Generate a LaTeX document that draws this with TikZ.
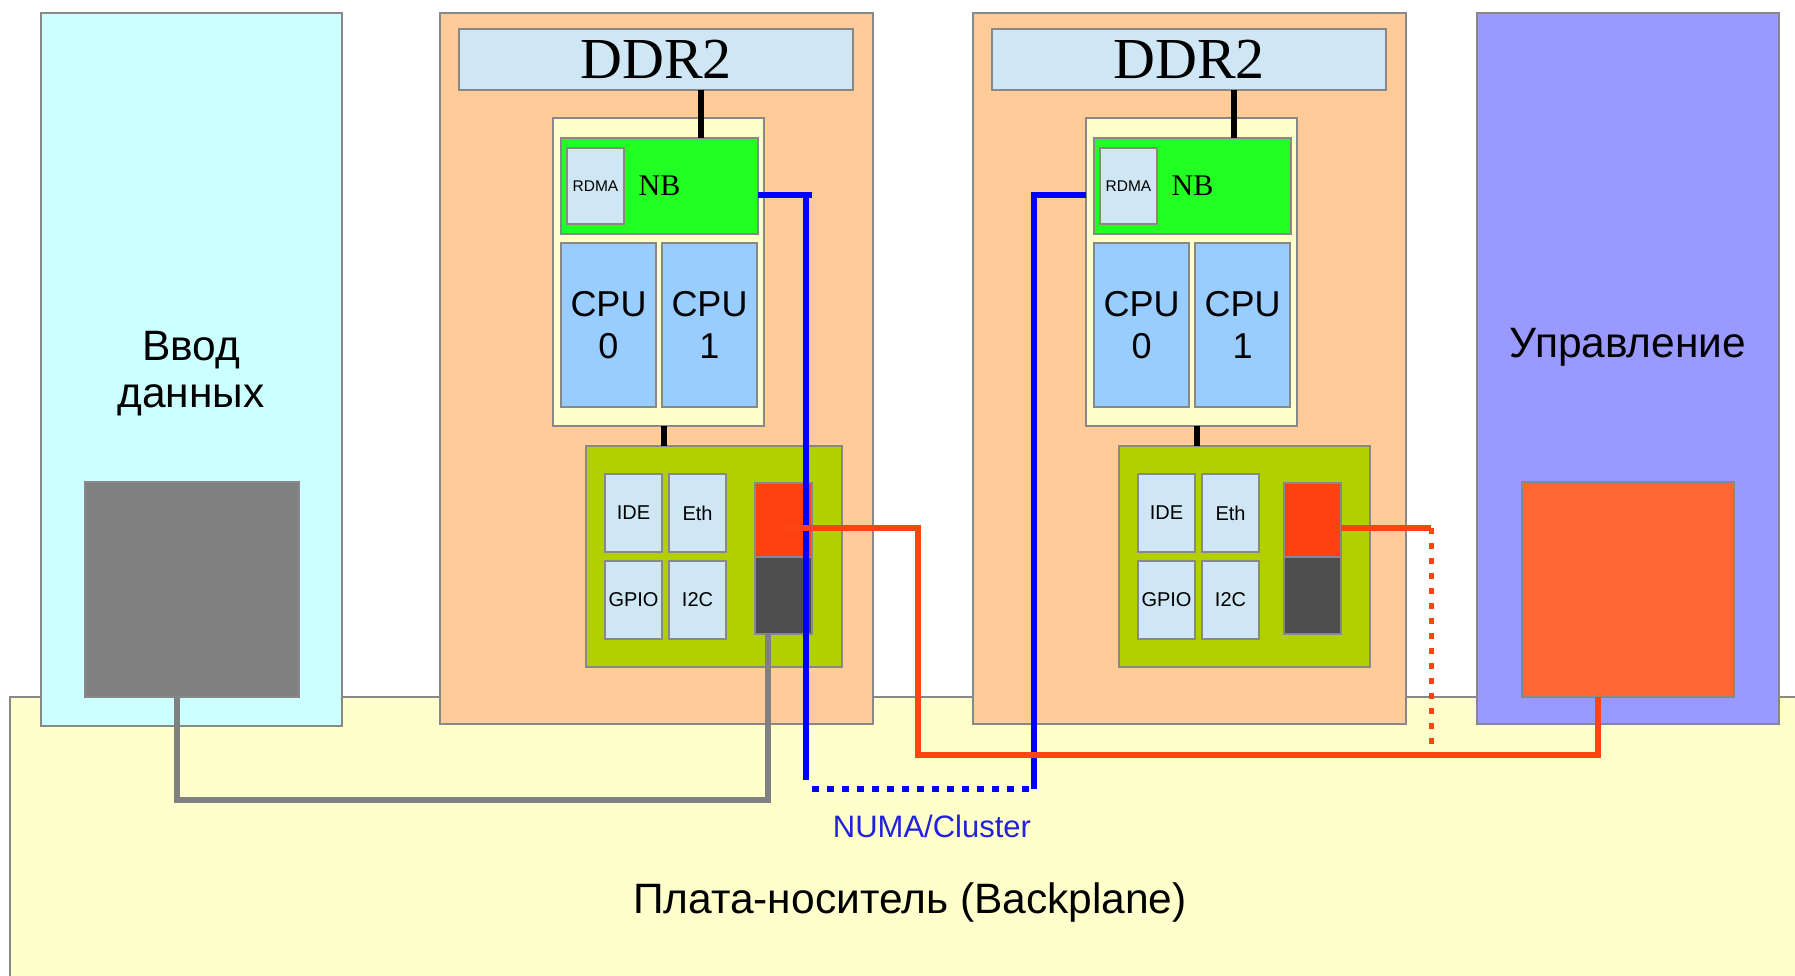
\documentclass[tikz,border=0pt]{standalone}
\usepackage{fontspec}
\setmainfont{Liberation Serif}
\setsansfont{Liberation Sans}
\usetikzlibrary{positioning}
\definecolor{edge}{RGB}{136,136,136}
\definecolor{inputcyan}{RGB}{204,255,255}
\definecolor{insqgray}{RGB}{128,128,128}
\definecolor{boardpeach}{RGB}{255,204,153}
\definecolor{ddrblue}{RGB}{207,231,245}
\definecolor{modcream}{RGB}{255,255,204}
\definecolor{nbgreen}{RGB}{34,255,34}
\definecolor{cpublue}{RGB}{153,204,255}
\definecolor{sbgreen}{RGB}{176,208,0}
\definecolor{portred}{RGB}{255,64,16}
\definecolor{portdark}{RGB}{77,77,77}
\definecolor{ctlpurple}{RGB}{153,153,255}
\definecolor{ctlorange}{RGB}{255,102,51}
\definecolor{bpyellow}{RGB}{255,255,204}
\definecolor{mgmtred}{RGB}{255,68,17}
\definecolor{numablue}{RGB}{34,34,221}

\begin{document}
\begin{tikzpicture}[
    x=1pt, y=-1pt,
    blk/.style={draw=edge, line width=2pt, inner sep=0pt, outer sep=0pt, anchor=north west},
    board/.style={blk, fill=boardpeach, minimum width=433pt, minimum height=711pt},
    ddr/.style={blk, fill=ddrblue, minimum width=394pt, minimum height=61pt, font=\fontsize{58}{60}\selectfont},
    module/.style={blk, fill=modcream, minimum width=211pt, minimum height=308pt},
    nbbox/.style={blk, fill=nbgreen, minimum width=197pt, minimum height=96pt, font=\fontsize{30}{32}\selectfont},
    rdma/.style={blk, fill=ddrblue, minimum width=57pt, minimum height=76pt, font=\sffamily\fontsize{15.5}{17}\selectfont},
    cpu/.style={blk, fill=cpublue, minimum width=95pt, minimum height=164pt, align=center, font=\sffamily\fontsize{36}{42}\selectfont},
    sbbox/.style={blk, fill=sbgreen, minimum height=221pt},
    io/.style={blk, fill=ddrblue, minimum width=57pt, minimum height=78pt, font=\sffamily\fontsize{20}{22}\selectfont},
    port/.style={blk, minimum width=57pt},
    lbl/.style={inner sep=0pt, align=center, font=\sffamily\fontsize{42.5}{47}\selectfont},
    bus/.style={line width=6pt, black},
    numa/.style={line width=6pt, blue},
    numadot/.style={numa, dash pattern=on 7pt off 8pt},
    mgmt/.style={line width=6pt, mgmtred},
    mgmtdot/.style={line width=5pt, mgmtred, dash pattern=on 6pt off 9pt},
    data/.style={line width=6pt, insqgray},
]
\useasboundingbox (0,0) rectangle (1795,975);

% backplane and side blocks
\node[blk, fill=bpyellow, minimum width=1800pt, minimum height=300pt] (bp) at (10,697) {};
\node[blk, fill=inputcyan, minimum width=301pt, minimum height=713pt] (inbox) at (41,13) {};
\node[blk, fill=insqgray, minimum width=214pt, minimum height=215pt] (insq) at (85,482) {};
\node[blk, fill=ctlpurple, minimum width=302pt, minimum height=711pt] (ctl) at (1477,13) {};
\node[blk, fill=ctlorange, minimum width=212pt, minimum height=215pt] (ctlsq) at (1522,482) {};

% two processor boards
\foreach \brd/\dx/\px/\sw in {a/0/0/256, b/533/-4/251} {
  \node[board] (board\brd) at (440+\dx,13) {};
  \node[ddr] (ddr\brd) at (459+\dx,29) {DDR2};
  \node[module] (cpum\brd) at (553+\dx,118) {};
  \node[nbbox] (nb\brd) at (561+\dx,138) {NB};
  \node[rdma] (rdma\brd) at (567+\dx,148) {RDMA};
  \node[cpu] (cpu0\brd) at (561+\dx,243) {CPU\\0};
  \node[cpu, right=6pt of cpu0\brd] (cpu1\brd) {CPU\\1};
  \node[sbbox, minimum width=\sw pt] (sb\brd) at (586+\dx,446) {};
  \node[io] (ide\brd) at (605+\dx,474) {IDE};
  \node[io, right=7pt of ide\brd] (eth\brd) {Eth};
  \node[io, below=9pt of ide\brd] (gpio\brd) {GPIO};
  \node[io, right=7pt of gpio\brd] (i2c\brd) {I2C};
  \node[port, fill=portred, minimum height=74pt] (red\brd) at (755+\dx+\px,483) {};
  \node[port, fill=portdark, minimum height=77pt, below=0pt of red\brd] (dark\brd) {};
  \draw[bus] ([xshift=45pt]ddr\brd.south) -- ([xshift=45pt]ddr\brd.south |- nb\brd.north);
  \draw[bus] ([xshift=5pt]cpum\brd.south) -- ([xshift=5pt]cpum\brd.south |- sb\brd.north);
}

% labels
\node[lbl] (inlbl) at (191,374) {Ввод\\данных};
\node[lbl, anchor=base] (ctllbl) at (1628,357) {Управление};
\node[lbl, anchor=base] (bplbl) at (910,913) {Плата-носитель (Backplane)};
\node[lbl, anchor=base, text=numablue, font=\sffamily\fontsize{31}{34}\selectfont] (numalbl) at (932,837) {NUMA/Cluster};

% links
\coordinate (numaL) at (806,780);
\coordinate (numaR) at (1034,789);
\draw[numa] ([yshift=-9pt]nba.east) -- ++(54,0);
\draw[numa] ([yshift=-9pt]nba.east) -| (numaL);
\draw[numa] ([yshift=-9pt]nbb.center -| cpumb.west) -| (numaR);
\draw[numadot] ([xshift=6pt]numaL |- numaR) -- ([xshift=-3pt]numaR);

\coordinate (mgmtC) at (918,755);
\draw[mgmt] ([yshift=-8pt]reda.center) -| (mgmtC) -| ([xshift=-30pt]ctlsq.south);
\draw[mgmt] ([yshift=-8pt]redb.east) -- ++(90,0) coordinate (mgmtT);
\draw[mgmtdot] (mgmtT) -- (mgmtT |- mgmtC);

\coordinate (dataC) at (177,800);
\draw[data] ([xshift=-16pt]darka.south) |- (dataC) -- ([xshift=-15pt]insq.south);
\end{tikzpicture}
\end{document}
